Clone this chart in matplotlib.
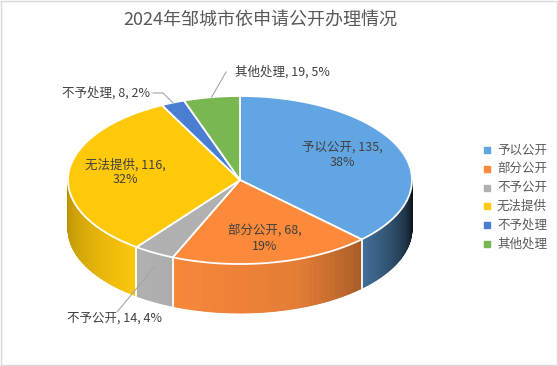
import numpy as np
import matplotlib.pyplot as plt
from matplotlib.colors import to_rgb
from matplotlib.patches import Polygon, Rectangle

plt.rcParams['font.family'] = ['Noto Sans CJK SC', 'DejaVu Sans']

# Data
title = "2024年邹城市依申请公开办理情况"
labels = ["予以公开", "部分公开", "不予公开", "无法提供", "不予处理", "其他处理"]
values = [135, 68, 14, 116, 8, 19]
colors = ["#62a5e3", "#fd8a3a", "#b0b0b0", "#ffc90a", "#4a7ed2", "#79b752"]

fig = plt.figure(figsize=(5.58, 3.66), dpi=100)
ax = fig.add_axes([0, 0, 1, 1])
ax.set_xlim(0, 558)
ax.set_ylim(366, 0)
ax.axis('off')

# pie geometry (pixel space)
cx, cy, rx, ry, depth = 240, 180, 172, 84, 49


def pt(t_deg, dy=0.0, f=1.0):
    t = np.radians(t_deg)
    return cx + f * rx * np.cos(t), cy - f * ry * np.sin(t) + dy


def shade(t):
    # brightness of the side wall, t in degrees (front half 180..360)
    tt = t % 360
    xs = [180, 235, 290, 320, 345, 360]
    ys = [0.72, 1.0, 0.9, 0.62, 0.32, 0.12]
    return np.interp(tt, xs, ys)


total = sum(values)
cum = np.concatenate([[0], np.cumsum(values)])
starts = 90 - cum[:-1] / total * 360
ends = 90 - cum[1:] / total * 360
mids = (starts + ends) / 2
pcts = [int(v / total * 100 + 0.5) for v in values]

# side walls (front half only, angles in [-180, 0])
for a0, a1, c in zip(starts, ends, colors):
    lo, hi = max(a1, -180), min(a0, 0)
    if lo >= hi:
        continue
    base = np.array(to_rgb(c))
    ts = np.linspace(lo, hi, max(int((hi - lo) * 2), 2))
    for t0, t1 in zip(ts[:-1], ts[1:]):
        col = np.clip(base * shade((t0 + t1) / 2), 0, 1)
        poly = [pt(t0), pt(t1), pt(t1, depth), pt(t0, depth)]
        ax.add_patch(Polygon(poly, closed=True, facecolor=col,
                             edgecolor=col, linewidth=0.6))

# white seams between side walls
for b in starts:
    if -180 < b < 0:
        x0, y0 = pt(b)
        x1, y1 = pt(b, depth)
        ax.plot([x0, x1], [y0, y1], color='white', lw=1.3)

# top faces
for a0, a1, c in zip(starts, ends, colors):
    ts = np.linspace(a0, a1, 200)
    poly = [(cx, cy)] + [pt(t) for t in ts]
    ax.add_patch(Polygon(poly, closed=True, facecolor=c,
                         edgecolor='white', linewidth=1.3, joinstyle='round'))

# inside labels
inside_pos = {0: (342, 155), 1: (265, 239), 3: (125, 172)}
for i, (x, y) in inside_pos.items():
    ax.text(x, y, f"{labels[i]}, {values[i]},\n{pcts[i]}%", ha='center',
            va='center', fontsize=9, color='#404040', linespacing=1.2)

# outside labels with leader lines
lc = '#a6a6a6'
# 不予处理
ax.text(150, 93, f"{labels[4]}, {values[4]}, {pcts[4]}%", ha='right',
        va='center', fontsize=9, color='#404040')
ax_, ay_ = pt(mids[4])
ax.plot([153, 163, ax_], [93, 93, ay_], color=lc, lw=0.8)
# 其他处理
ax.text(235, 72, f"{labels[5]}, {values[5]}, {pcts[5]}%", ha='left',
        va='center', fontsize=9, color='#404040')
ax_, ay_ = pt(mids[5])
ax.plot([226, ax_], [72, ay_], color=lc, lw=0.8)
# 不予公开
ax.text(67, 318, f"{labels[2]}, {values[2]}, {pcts[2]}%", ha='left',
        va='center', fontsize=9, color='#404040')
ax_, ay_ = pt(mids[2], dy=depth * 0.3)
ax.plot([117, ax_], [312, ay_], color=lc, lw=0.8)

# legend
for i, (lab, c) in enumerate(zip(labels, colors)):
    y = 150 + i * 18.8
    ax.scatter([487], [y], marker='s', s=14, color=c)
    ax.text(497, y, lab, ha='left', va='center', fontsize=9, color='#595959')

# title
ax.text(260, 20, title, ha='center', va='center', fontsize=13, color='#595959')

# chart border
fig.patches.append(Rectangle((0.001, 0.002), 0.997, 0.995, transform=fig.transFigure,
                             fill=False, edgecolor='#d9d9d9', lw=1))

fig.savefig("out.png", dpi=100)
